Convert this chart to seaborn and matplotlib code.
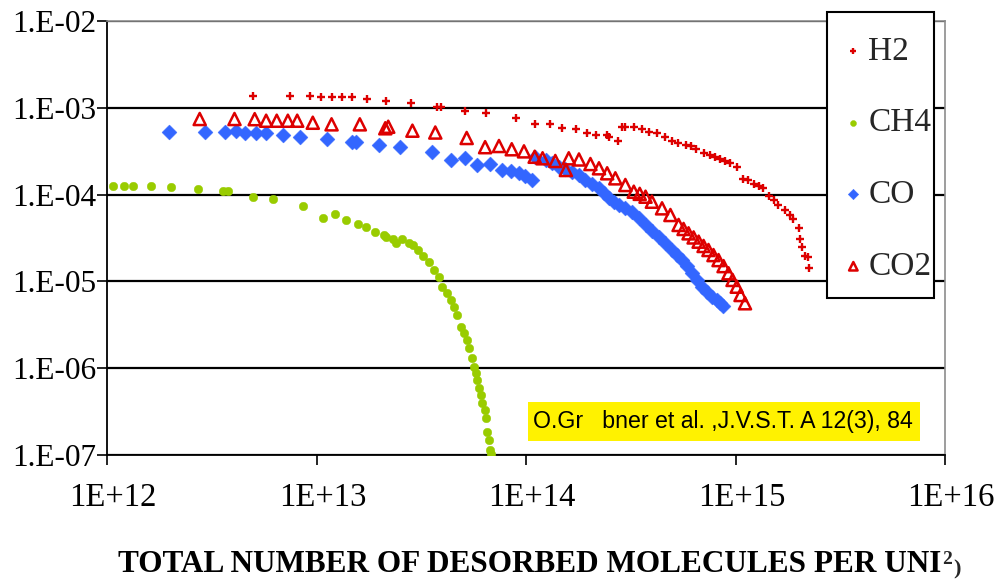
import matplotlib
matplotlib.use("Agg")
import matplotlib.pyplot as plt
from matplotlib.patches import Rectangle
from matplotlib.ticker import FixedLocator, FuncFormatter, NullLocator
from matplotlib.transforms import ScaledTranslation
import numpy as np
import pandas as pd
import seaborn as sns

# Desorption yield (molecules per photon) vs. total desorbed molecules per unit area
h2_x = [4.96e12, 7.44e12, 9.33e12, 1.045e13, 1.18e13, 1.33e13, 1.48e13, 1.75e13, 2.15e13, 2.84e13,
        3.76e13, 3.95e13, 5.12e13, 6.41e13, 8.99e13, 1.11e14, 1.30e14, 1.49e14, 1.74e14, 1.96e14,
        2.15e14, 2.44e14, 2.50e14, 2.75e14, 2.86e14, 2.96e14, 3.27e14, 3.58e14, 3.88e14, 4.22e14,
        4.63e14, 4.98e14, 5.31e14, 5.80e14, 6.15e14, 6.50e14, 7.04e14, 7.58e14, 8.0e14, 8.45e14,
        8.93e14, 9.44e14, 1.014e15, 1.09e15, 1.15e15, 1.22e15, 1.29e15, 1.36e15, 1.44e15, 1.52e15,
        1.60e15, 1.73e15, 1.82e15, 1.89e15, 2.0e15, 2.04e15, 2.08e15, 2.14e15, 2.23e15, 2.25e15]
h2_y = [1.38e-3, 1.38e-3, 1.38e-3, 1.32e-3, 1.32e-3, 1.32e-3, 1.32e-3, 1.26e-3, 1.21e-3, 1.15e-3,
        1.02e-3, 1.02e-3, 9.3e-4, 8.8e-4, 7.57e-4, 6.5e-4, 6.5e-4, 5.9e-4, 5.65e-4, 5.08e-4,
        4.86e-4, 4.86e-4, 4.57e-4, 4.15e-4, 5.96e-4, 5.96e-4, 5.96e-4, 5.65e-4, 5.31e-4, 5.08e-4,
        4.57e-4, 4.18e-4, 3.96e-4, 3.73e-4, 3.63e-4, 3.33e-4, 3.04e-4, 2.86e-4, 2.73e-4, 2.55e-4,
        2.46e-4, 2.33e-4, 2.06e-4, 1.50e-4, 1.47e-4, 1.33e-4, 1.26e-4, 1.18e-4, 9.6e-5, 8.67e-5,
        7.59e-5, 6.65e-5, 5.82e-5, 5.24e-5, 4.09e-5, 3.04e-5, 2.51e-5, 1.96e-5, 1.93e-5, 1.41e-5]

ch4_x = [1.07e12, 1.205e12, 1.33e12, 1.62e12, 2.02e12, 2.71e12, 3.57e12, 3.77e12, 4.96e12, 6.17e12,
         8.58e12, 1.07e13, 1.22e13, 1.39e13, 1.57e13, 1.73e13, 1.91e13, 2.11e13, 2.15e13, 2.33e13,
         2.40e13, 2.57e13, 2.77e13, 2.90e13, 3.06e13, 3.23e13, 3.45e13, 3.65e13, 3.85e13, 3.98e13,
         4.21e13, 4.40e13, 4.54e13, 4.69e13, 4.90e13, 5.07e13, 5.24e13, 5.35e13, 5.53e13, 5.65e13,
         5.78e13, 5.84e13, 5.97e13, 6.11e13, 6.17e13, 6.38e13, 6.45e13, 6.52e13, 6.67e13, 6.74e13,
         6.8e13]
ch4_y = [1.26e-4, 1.26e-4, 1.26e-4, 1.26e-4, 1.22e-4, 1.16e-4, 1.10e-4, 1.10e-4, 9.4e-5, 8.9e-5,
         7.4e-5, 5.37e-5, 5.97e-5, 5.1e-5, 4.58e-5, 4.24e-5, 3.71e-5, 3.43e-5, 3.25e-5, 3.08e-5,
         2.77e-5, 3.08e-5, 2.77e-5, 2.63e-5, 2.30e-5, 1.96e-5, 1.67e-5, 1.35e-5, 1.12e-5, 8.6e-6,
         7.35e-6, 6.1e-6, 5.07e-6, 4.1e-6, 2.98e-6, 2.55e-6, 2.11e-6, 1.71e-6, 1.31e-6, 1.03e-6,
         8.8e-7, 7.3e-7, 5.9e-7, 4.9e-7, 3.97e-7, 3.3e-7, 2.67e-7, 1.84e-7, 1.49e-7, 1.14e-7,
         1.02e-7]

co_x = [1.97e12, 2.93e12, 3.66e12, 4.11e12, 4.57e12, 5.16e12, 5.74e12, 6.94e12, 8.36e12, 1.125e13,
        1.47e13, 1.55e13, 1.99e13, 2.51e13, 3.55e13, 4.38e13, 5.12e13, 5.86e13, 6.72e13, 7.71e13,
        8.46e13, 9.26e13, 9.89e13, 1.07e14, 1.11e14, 1.24e14, 1.33e14, 1.44e14, 1.54e14, 1.66e14,
        1.79e14, 1.92e14, 2.06e14, 2.23e14, 2.35e14, 2.48e14, 2.62e14, 2.77e14, 2.98e14, 3.21e14,
        3.45e14, 3.72e14, 3.98e14, 4.30e14, 4.62e14, 4.98e14, 5.24e14, 5.55e14, 5.84e14, 6.19e14,
        6.52e14, 6.91e14, 7.28e14, 7.71e14, 8.12e14, 8.45e14, 8.67e14]
co_y = [5.31e-4, 5.31e-4, 5.31e-4, 5.41e-4, 5.08e-4, 5.08e-4, 5.08e-4, 4.82e-4, 4.57e-4, 4.34e-4,
        4.07e-4, 4.07e-4, 3.73e-4, 3.56e-4, 3.07e-4, 2.50e-4, 2.62e-4, 2.19e-4, 2.25e-4, 1.92e-4,
        1.88e-4, 1.76e-4, 1.64e-4, 1.47e-4, 2.73e-4, 2.50e-4, 2.31e-4, 2.10e-4, 1.97e-4, 1.84e-4,
        1.66e-4, 1.47e-4, 1.33e-4, 1.18e-4, 1.04e-4, 9.06e-5, 8.32e-5, 7.59e-5, 7.01e-5, 6.35e-5,
        5.37e-5, 4.47e-5, 3.81e-5, 3.27e-5, 2.77e-5, 2.30e-5, 2.01e-5, 1.76e-5, 1.50e-5, 1.24e-5,
        1.04e-5, 8.69e-6, 7.55e-6, 6.67e-6, 6.11e-6, 5.6e-6, 5.21e-6]

co2_x = [2.77e12, 4.06e12, 5.07e12, 5.75e12, 6.46e12, 7.30e12, 8.09e12, 9.60e12, 1.18e13, 1.61e13,
         2.13e13, 2.20e13, 2.87e13, 3.69e13, 5.21e13, 6.38e13, 7.43e13, 8.55e13, 9.78e13, 1.10e14,
         1.20e14, 1.38e14, 1.55e14, 1.60e14, 1.79e14, 2.03e14, 2.23e14, 2.44e14, 2.67e14, 2.98e14,
         3.27e14, 3.49e14, 3.72e14, 3.99e14, 4.46e14, 4.89e14, 5.35e14, 5.65e14, 5.97e14, 6.31e14,
         6.67e14, 7.04e14, 7.43e14, 7.85e14, 8.30e14, 8.77e14, 9.26e14, 9.68e14, 1.014e15, 1.057e15,
         1.11e15]
co2_y = [7.43e-4, 7.43e-4, 7.4e-4, 7.10e-4, 7.10e-4, 7.10e-4, 7.10e-4, 6.73e-4, 6.45e-4, 6.45e-4,
         5.81e-4, 6.05e-4, 5.45e-4, 5.19e-4, 4.49e-4, 3.52e-4, 3.63e-4, 3.33e-4, 3.15e-4, 2.73e-4,
         2.62e-4, 2.44e-4, 1.92e-4, 2.62e-4, 2.54e-4, 2.25e-4, 2.01e-4, 1.76e-4, 1.54e-4, 1.29e-4,
         1.08e-4, 1.02e-4, 9.46e-5, 8.28e-5, 6.95e-5, 5.82e-5, 4.47e-5, 4.02e-5, 3.58e-5, 3.21e-5,
         2.87e-5, 2.56e-5, 2.30e-5, 2.01e-5, 1.76e-5, 1.50e-5, 1.24e-5, 1.04e-5, 8.69e-6, 6.97e-6,
         5.6e-6]

gases = ["H2", "CH4", "CO", "CO2"]
x_ticks = [1e12, 1e13, 1e14, 1e15, 1e16]
y_ticks = [1e-7, 1e-6, 1e-5, 1e-4, 1e-3, 1e-2]
x_label = "TOTAL NUMBER OF DESORBED MOLECULES PER UNI"
source_note = "O.Gr   bner et al. ,J.V.S.T. A 12(3), 84"

df = pd.concat([
    pd.DataFrame({"gas": "H2", "dose": h2_x, "yield": h2_y}),
    pd.DataFrame({"gas": "CH4", "dose": ch4_x, "yield": ch4_y}),
    pd.DataFrame({"gas": "CO", "dose": co_x, "yield": co_y}),
    pd.DataFrame({"gas": "CO2", "dose": co2_x, "yield": co2_y}),
], ignore_index=True)

styles = {
    "H2": dict(marker="+", s=30, color="#DD0000", linewidths=1.7),
    "CH4": dict(marker="o", s=38, color="#99CC00", edgecolor="#99CC00", linewidth=0.3),
    "CO": dict(marker="D", s=58, color="#3366FF", edgecolor="#3366FF", linewidth=0.3),
    "CO2": dict(marker="^", s=76, color="#DD0000", facecolor="none", edgecolor="#DD0000",
                linewidth=1.8),
}

sns.set_style("white")
plt.rcParams["font.family"] = ["Liberation Serif", "DejaVu Serif"]

fig = plt.figure(figsize=(10, 5.79), dpi=100)
ax = fig.add_axes([0.107, 1 - 455 / 579, 0.838, 434 / 579])

handles = []
for gas in gases:
    sub = df[df["gas"] == gas]
    sns.scatterplot(data=sub, x="dose", y="yield", ax=ax, legend=False, zorder=3, **styles[gas])
    handles.append(ax.collections[-1])

ax.set_xscale("log")
ax.set_yscale("log")
ax.set_xlim(1e12, 1e16)
ax.set_ylim(1e-7, 1e-2)

ax.xaxis.set_major_locator(FixedLocator(x_ticks))
ax.yaxis.set_major_locator(FixedLocator(y_ticks))
ax.xaxis.set_minor_locator(NullLocator())
ax.yaxis.set_minor_locator(NullLocator())
ax.xaxis.set_major_formatter(FuncFormatter(lambda v, p: f"1E+{int(round(np.log10(v)))}"))
ax.yaxis.set_major_formatter(FuncFormatter(lambda v, p: f"1.E{int(round(np.log10(v))):+03d}"))

ax.tick_params(axis="both", which="major", direction="out", length=7, width=1.2,
               color="black", labelcolor="black")
ax.tick_params(axis="x", pad=13, labelsize=23.5)
ax.tick_params(axis="y", pad=1, labelsize=22.5)
ax.tick_params(left=True, bottom=True)
shift = ScaledTranslation(6 / 100, 0, fig.dpi_scale_trans)
for t in ax.get_xticklabels():
    t.set_transform(t.get_transform() + shift)

ax.set_axisbelow(True)
ax.yaxis.grid(True, color="black", linewidth=1.6)
ax.xaxis.grid(False)

for side in ["left", "bottom"]:
    ax.spines[side].set_color("black")
    ax.spines[side].set_linewidth(1.3)
for side in ["top", "right"]:
    ax.spines[side].set_color("#8c8c8c")
    ax.spines[side].set_linewidth(1.2)

ax.set_xlabel("")
ax.set_ylabel("")

# legend frame sits partly above the plot area
fig.add_artist(Rectangle((827 / 1000, 1 - 298 / 579), 107 / 1000, 286 / 579,
                         transform=fig.transFigure, facecolor="white",
                         edgecolor="black", linewidth=1.5, zorder=5))
leg = fig.legend(handles, gases, loc="upper left",
                 bbox_to_anchor=(840 / 1000, 1 - 36 / 579), bbox_transform=fig.transFigure,
                 frameon=False, fontsize=24, borderpad=0, borderaxespad=0,
                 labelspacing=1.24, handlelength=0.8, handletextpad=0.05, markerscale=0.7)
leg.set_zorder(6)

# source note on a yellow box
fig.add_artist(Rectangle((528 / 1000, 1 - 441 / 579), 392 / 1000, 39 / 579,
                         transform=fig.transFigure, facecolor="#FFF200",
                         edgecolor="none", zorder=5))
fig.text(533 / 1000, 1 - 421.5 / 579, source_note, fontsize=16.7,
         family=["Liberation Sans", "DejaVu Sans"], ha="left", va="center",
         color="black", zorder=6)

lbl = fig.text(118 / 1000, 7 / 579, x_label, fontsize=22.5, fontweight="bold",
               ha="left", va="baseline", color="black")
ax.annotate("2", xy=(1.0, 0.0), xycoords=lbl, xytext=(0.5, 11), textcoords="offset points",
            fontsize=14, fontweight="bold", ha="left", va="baseline",
            annotation_clip=False)
ax.annotate(")", xy=(1.0, 0.0), xycoords=lbl, xytext=(8.5, 3), textcoords="offset points",
            fontsize=16, fontweight="bold", ha="left", va="baseline",
            annotation_clip=False)

fig.savefig("out.png", dpi=100)
